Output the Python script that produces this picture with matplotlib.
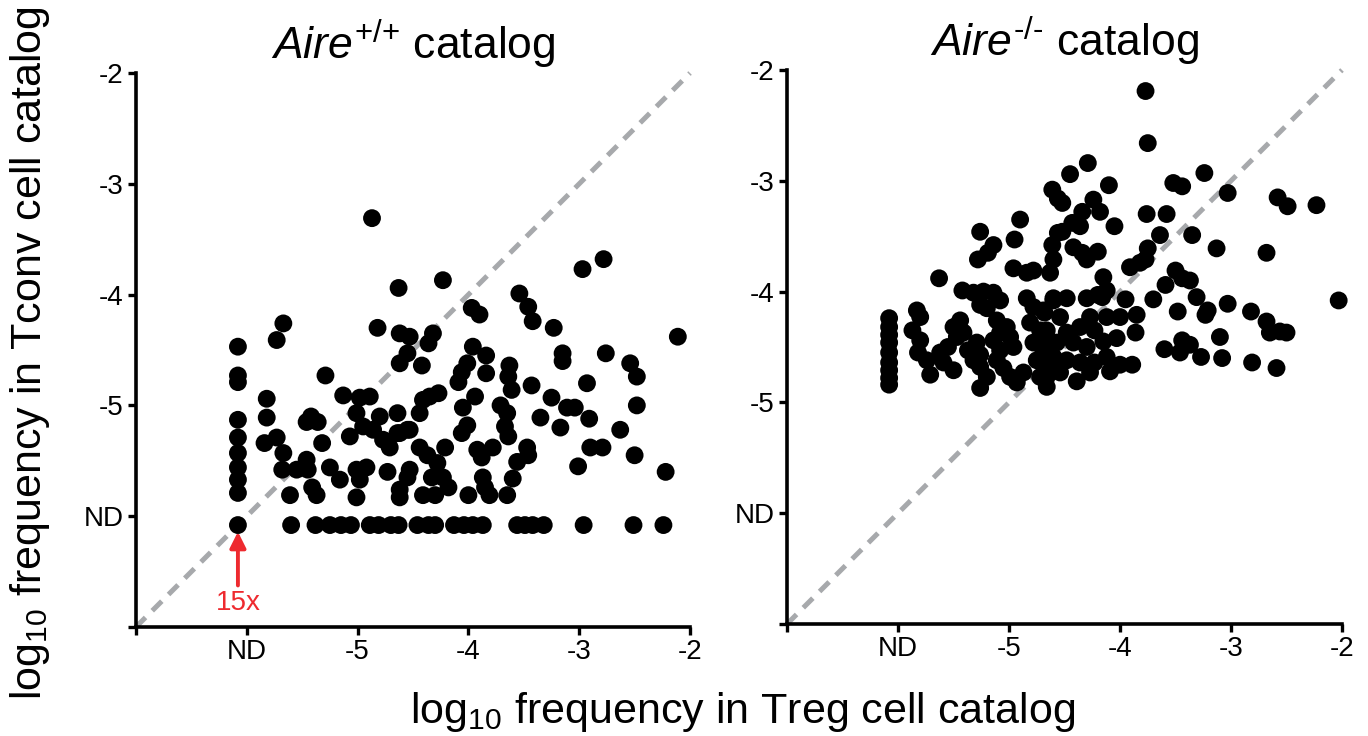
import matplotlib
matplotlib.use('Agg')
import matplotlib.pyplot as plt

plt.rcParams['font.family'] = ['Liberation Sans', 'DejaVu Sans']
plt.rcParams['mathtext.fontset'] = 'custom'
plt.rcParams['mathtext.rm'] = 'Liberation Sans'
plt.rcParams['mathtext.it'] = 'Liberation Sans:italic'

ND = -6.08

# ---- Aire+/+ catalog ----
wt_nd_col_y = [-4.47, -4.73, -4.79, -5.13, -5.29, -5.43, -5.56, -5.67, -5.79, -6.08]
wt_nd_row_x = [-5.60, -5.38, -5.25, -5.15, -5.06, -4.89, -4.81, -4.70, -4.63, -4.46,
               -4.36, -4.30, -4.13, -4.04, -3.96, -3.87, -3.56, -3.49, -3.42, -3.32,
               -2.96, -2.51, -2.24]
wt_x = [-4.87, -4.63, -5.67, -5.73, -4.82, -4.62,
        -5.29, -5.82, -5.82, -5.84, -5.73, -5.67, -5.68, -5.55, -5.46, -5.45, -5.61, -5.41, -5.37,
        -5.42, -5.36, -5.46, -5.32, -5.13, -4.98, -4.89, -5.01, -5.07, -4.95, -4.86, -4.80, -4.64,
        -4.77, -4.71, -4.64, -4.55, -5.25, -5.16, -5.01, -4.92, -4.98, -5.01, -4.73, -4.62, -4.55,
        -4.23, -2.97, -2.78, -2.11, -3.54, -3.46, -3.42, -3.23, -3.97, -3.90, -4.53, -4.32, -4.36,
        -4.55, -4.62, -4.42,
        -3.96, -3.84, -4.01, -4.06, -4.09, -3.84, -3.63, -3.64, -3.61, -3.43, -3.15, -3.15, -2.76,
        -2.54, -2.48, -2.93, -2.48,
        -3.25, -3.11, -3.04, -3.35, -3.17, -2.91, -2.63, -2.90, -2.79, -3.01, -2.50, -2.22,
        -4.35, -4.27, -4.41, -4.44, -3.94, -4.05, -3.71, -3.65, -4.01, -4.06, -3.67, -3.64, -4.21,
        -3.92, -3.78, -3.88, -3.47, -3.46, -3.56, -3.60,
        -4.62, -4.53, -4.44, -4.37, -4.28, -4.53, -4.33, -4.23, -4.18, -4.62, -4.41, -4.30, -4.00,
        -3.87, -3.85, -3.81, -3.65]
wt_y = [-3.31, -3.94, -4.26, -4.41, -4.30, -4.35,
        -4.73, -4.94, -5.11, -5.34, -5.29, -5.43, -5.58, -5.58, -5.49, -5.58, -5.81, -5.74, -5.81,
        -5.10, -5.15, -5.15, -5.34, -4.91, -4.93, -4.92, -5.07, -5.28, -5.19, -5.22, -5.10, -5.07,
        -5.31, -5.38, -5.25, -5.22, -5.56, -5.67, -5.58, -5.56, -5.67, -5.83, -5.60, -5.83, -5.65,
        -3.87, -3.77, -3.68, -4.38, -3.99, -4.11, -4.24, -4.30, -4.12, -4.18, -4.38, -4.35, -4.44,
        -4.53, -4.62, -4.64,
        -4.47, -4.55, -4.62, -4.70, -4.79, -4.71, -4.64, -4.74, -4.86, -4.82, -4.53, -4.60, -4.53,
        -4.62, -4.74, -4.80, -5.00,
        -4.93, -5.02, -5.02, -5.11, -5.20, -5.12, -5.22, -5.38, -5.38, -5.55, -5.45, -5.60,
        -4.92, -4.89, -4.95, -5.07, -4.92, -5.02, -5.00, -5.07, -5.18, -5.25, -5.19, -5.28, -5.38,
        -5.40, -5.38, -5.47, -5.38, -5.45, -5.51, -5.66,
        -5.25, -5.22, -5.38, -5.45, -5.52, -5.58, -5.65, -5.65, -5.74, -5.76, -5.81, -5.81, -5.81,
        -5.65, -5.74, -5.81, -5.81]

# ---- Aire-/- catalog ----
ko_nd_col_y = [-4.24, -4.32, -4.39, -4.46, -4.55, -4.64, -4.71, -4.78, -4.84]
ko_x = [-4.61, -4.56, -4.90, -4.95, -5.26, -5.14, -5.19, -5.28, -4.96, -4.84, -4.78, -4.61, -4.60,
        -4.63, -4.56, -5.63,
        -5.42, -5.32, -5.23, -5.14, -5.08, -5.20, -5.26, -5.83, -5.80, -5.87, -5.80, -5.82, -5.74, -5.71,
        -5.55, -5.47, -5.44, -5.50, -5.41, -5.59, -5.62, -5.50, -5.37, -5.29, -5.26, -5.32, -5.26,
        -5.20, -5.26,
        -5.11, -5.02, -5.08, -5.14, -4.99, -4.96, -5.08, -5.11, -5.05, -4.99, -4.93, -4.87,
        -4.84, -4.78, -4.69, -4.60, -4.81, -4.72, -4.66, -4.78, -4.69, -4.75, -4.66, -4.60, -4.72, -4.66,
        -3.77, -3.75, -4.29, -4.45, -4.10, -4.52, -4.24, -4.18, -4.34, -4.43, -4.52, -4.36, -4.42,
        -4.34, -4.30, -4.20, -4.05,
        -3.52, -3.44, -3.24, -3.03, -3.76, -3.58, -3.64, -3.35, -3.75, -3.13, -2.58, -2.49, -2.23, -2.68,
        -3.91, -3.82, -3.77, -4.15, -4.12, -4.16, -3.50, -3.44, -3.37, -3.59, -3.31, -3.03, -2.82,
        -2.68, -2.65, -2.56, -2.50, -2.03,
        -3.95, -3.85, -3.86, -3.70, -3.48, -3.23, -3.21, -3.10, -3.44, -3.37, -3.46, -3.60, -3.27,
        -3.08, -2.81, -2.59,
        -4.60, -4.48, -4.30, -4.20, -4.68, -4.54, -4.27, -4.12, -4.00, -4.66, -4.48, -4.36, -4.23, -4.03,
        -4.69, -4.57, -4.42, -4.30, -4.15, -4.63, -4.48, -4.36, -4.23, -4.12, -4.00, -3.89, -4.66,
        -4.54, -4.39, -4.27, -4.09]
ko_y = [-3.08, -3.16, -3.35, -3.53, -3.46, -3.58, -3.65, -3.71, -3.79, -3.83, -3.81, -3.58, -3.71,
        -3.83, -3.47, -3.88,
        -3.99, -4.01, -4.00, -4.01, -4.08, -4.15, -4.12, -4.17, -4.23, -4.35, -4.44, -4.55, -4.62, -4.75,
        -4.50, -4.41, -4.26, -4.32, -4.37, -4.64, -4.55, -4.71, -4.53, -4.46, -4.57, -4.62, -4.68,
        -4.77, -4.87,
        -4.26, -4.32, -4.37, -4.44, -4.41, -4.50, -4.53, -4.62, -4.69, -4.77, -4.82, -4.73,
        -4.06, -4.14, -4.17, -4.08, -4.28, -4.35, -4.41, -4.46, -4.53, -4.62, -4.68, -4.59, -4.77, -4.86,
        -2.19, -2.66, -2.84, -2.94, -3.04, -3.20, -3.17, -3.28, -3.28, -3.38, -3.46, -3.41, -3.60,
        -3.65, -3.71, -3.64, -3.41,
        -3.02, -3.05, -2.93, -3.11, -3.30, -3.30, -3.49, -3.49, -3.61, -3.61, -3.15, -3.23, -3.22, -3.65,
        -3.78, -3.74, -3.71, -3.87, -3.99, -4.05, -3.81, -3.88, -3.90, -3.94, -4.05, -4.11, -4.18,
        -4.27, -4.37, -4.36, -4.37, -4.08,
        -4.07, -4.21, -4.37, -4.07, -4.18, -4.21, -4.17, -4.41, -4.44, -4.48, -4.55, -4.52, -4.59,
        -4.60, -4.64, -4.69,
        -4.06, -4.06, -4.06, -4.03, -4.19, -4.23, -4.23, -4.23, -4.23, -4.35, -4.37, -4.32, -4.35, -4.42,
        -4.50, -4.46, -4.46, -4.50, -4.45, -4.62, -4.62, -4.64, -4.64, -4.59, -4.66, -4.66, -4.77,
        -4.73, -4.81, -4.73, -4.72]

tick_vals = [-7, -6, -5, -4, -3, -2]
tick_labels = ['', 'ND', '-5', '-4', '-3', '-2']

fig = plt.figure(figsize=(13.68, 7.36), dpi=100)
ax1 = fig.add_axes([0.0994, 0.1481, 0.405, 0.7527])
ax2 = fig.add_axes([0.5753, 0.1522, 0.4057, 0.7527])

panels = [
    (ax1, wt_x + [ND] * len(wt_nd_col_y) + wt_nd_row_x,
     wt_y + wt_nd_col_y + [ND] * len(wt_nd_row_x), r'$\mathit{Aire}^{\text{+/+}}$ catalog'),
    (ax2, ko_x + [ND] * len(ko_nd_col_y),
     ko_y + ko_nd_col_y, r'$\mathit{Aire}^{\text{-/-}}$ catalog'),
]

for ax, xs, ys, title in panels:
    ax.plot([-7, -2], [-7, -2], color='#a7a9ac', lw=3.6, dashes=(2.7, 1.9),
            dash_capstyle='butt', zorder=1, clip_on=False)
    ax.scatter(xs, ys, s=165, color='black', edgecolors='none', zorder=3, clip_on=False)
    ax.set_xlim(-7, -2)
    ax.set_ylim(-7, -2)
    ax.set_xticks(tick_vals)
    ax.set_xticklabels(tick_labels)
    ax.set_yticks(tick_vals)
    ax.set_yticklabels(tick_labels)
    ax.tick_params(direction='out', length=6, width=2.4, labelsize=20, pad=3)
    for side in ['top', 'right']:
        ax.spines[side].set_visible(False)
    for side in ['left', 'bottom']:
        ax.spines[side].set_linewidth(2.6)
    ax.set_title(title, fontsize=32, pad=10)

ax1.annotate('15x', xy=(ND, -6.14), xytext=(ND, -6.78), color='#ee2a2f', fontsize=20,
             ha='center', va='center',
             arrowprops=dict(arrowstyle='-|>', color='#ee2a2f', lw=2.8, mutation_scale=24,
                             shrinkA=1, shrinkB=0))

fig.text(743 / 1368, 0.033, r'log$_{10}$ frequency in Treg cell catalog', fontsize=31,
         ha='center', va='center')
fig.text(0.022, 0.52, r'log$_{10}$ frequency in Tconv cell catalog', fontsize=31,
         ha='center', va='center', rotation=90)

fig.savefig('out.png', dpi=100)
